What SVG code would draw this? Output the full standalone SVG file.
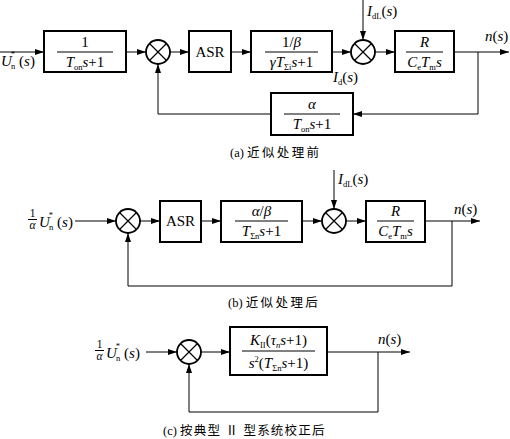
<svg xmlns="http://www.w3.org/2000/svg" width="510" height="439" viewBox="0 0 510 439" font-family="'Liberation Serif','Times New Roman',serif">
<defs>
<marker id="ar" markerUnits="userSpaceOnUse" markerWidth="9" markerHeight="6" refX="9" refY="3" orient="auto"><path d="M0,0 L9,3 L0,6 z" fill="#000"/></marker>
<style>
.bx{fill:#fff;stroke:#000;stroke-width:2}
.ln{fill:none;stroke:#000;stroke-width:1}
.fr{stroke:#000;stroke-width:1}
.sm{fill:#fff;stroke:#000;stroke-width:1.8}
.x{stroke:#000;stroke-width:1.2}
text{font-family:'Liberation Serif','Times New Roman',serif;font-size:15px;fill:#000}
.m{text-anchor:middle}
.i{font-style:italic}
.sb{font-size:8.5px}
.f{font-size:11.5px}
text.cap{font-family:'Liberation Serif','Noto Sans CJK SC',serif;font-size:12.5px}
.cj{letter-spacing:2.4px}
.cj2{letter-spacing:1.2px}
</style>
</defs>
<rect width="510" height="439" fill="#fff"/>

<g id="connectors">
<path class="ln" d="M0,52 H44" marker-end="url(#ar)"/>
<path class="ln" d="M126,52 H146" marker-end="url(#ar)"/>
<path class="ln" d="M170,52 H189" marker-end="url(#ar)"/>
<path class="ln" d="M231,52 H251" marker-end="url(#ar)"/>
<path class="ln" d="M332,52 H351" marker-end="url(#ar)"/>
<path class="ln" d="M363,0 V40" marker-end="url(#ar)"/>
<path class="ln" d="M375,52 H395" marker-end="url(#ar)"/>
<path class="ln" d="M454,52 H509" marker-end="url(#ar)"/>
<path class="ln" d="M478,52 V114 H353" marker-end="url(#ar)"/>
<path class="ln" d="M271,114 H158 V64" marker-end="url(#ar)"/>
<path class="ln" d="M75,221 H116" marker-end="url(#ar)"/>
<path class="ln" d="M140,221 H160" marker-end="url(#ar)"/>
<path class="ln" d="M201,221 H221" marker-end="url(#ar)"/>
<path class="ln" d="M302,221 H322" marker-end="url(#ar)"/>
<path class="ln" d="M334,170 V209" marker-end="url(#ar)"/>
<path class="ln" d="M346,221 H366" marker-end="url(#ar)"/>
<path class="ln" d="M425,221 H480" marker-end="url(#ar)"/>
<path class="ln" d="M452,221 V286 H128 V233" marker-end="url(#ar)"/>
<path class="ln" d="M146,352 H177" marker-end="url(#ar)"/>
<path class="ln" d="M201,352 H230" marker-end="url(#ar)"/>
<path class="ln" d="M327,352 H410" marker-end="url(#ar)"/>
<path class="ln" d="M378,352 V412 H189 V364" marker-end="url(#ar)"/>
</g>

<g id="a-in"><text x="1" y="66"><tspan class="i">U</tspan><tspan class="sb" dy="-9" dx="-1">*</tspan><tspan class="sb" dy="12" dx="-4">n</tspan><tspan dy="-3"> (</tspan><tspan class="i">s</tspan>)</text></g>
<g id="a-b1"><rect class="bx" x="44" y="31" width="82" height="41"/><text class="m" x="85" y="47">1</text><line class="fr" x1="57" y1="52" x2="113" y2="52"/><text class="m" x="85" y="67"><tspan class="i">T</tspan><tspan class="sb" dy="3">on</tspan><tspan class="i" dy="-3">s</tspan>+1</text></g>
<g id="a-s1"><circle class="sm" cx="158" cy="52" r="12"/><path class="x" d="M149.5,43.5 L166.5,60.5 M166.5,43.5 L149.5,60.5"/></g>
<g id="a-asr"><rect class="bx" x="189" y="31" width="42" height="41"/><text class="m" x="210" y="57">ASR</text></g>
<g id="a-b3"><rect class="bx" x="251" y="31" width="81" height="41"/><text class="m" x="291.5" y="47">1/<tspan class="i">β</tspan></text><line class="fr" x1="265" y1="52" x2="318" y2="52"/><text class="m" x="291.5" y="67"><tspan class="i">γT</tspan><tspan class="sb" dy="3">Σi</tspan><tspan class="i" dy="-3">s</tspan>+1</text></g>
<g id="a-s2"><circle class="sm" cx="363" cy="52" r="12"/><path class="x" d="M354.5,43.5 L371.5,60.5 M371.5,43.5 L354.5,60.5"/></g>
<g id="a-idl"><text x="367" y="16"><tspan class="i">I</tspan><tspan class="sb" dy="3">dL</tspan><tspan dy="-3">(</tspan><tspan class="i">s</tspan>)</text></g>
<g id="a-id"><text x="333" y="82"><tspan class="i">I</tspan><tspan class="sb" dy="3">d</tspan><tspan dy="-3">(</tspan><tspan class="i">s</tspan>)</text></g>
<g id="a-r"><rect class="bx" x="395" y="31" width="59" height="41"/><text class="m i" x="424.5" y="47">R</text><line class="fr" x1="406" y1="52" x2="443" y2="52"/><text class="m" x="424.5" y="67"><tspan class="i">C</tspan><tspan class="sb" dy="3">e</tspan><tspan class="i" dy="-3">T</tspan><tspan class="sb" dy="3">m</tspan><tspan class="i" dy="-3">s</tspan></text></g>
<g id="a-out"><text x="485" y="41"><tspan class="i">n</tspan>(<tspan class="i">s</tspan>)</text></g>
<g id="a-fb"><rect class="bx" x="271" y="93" width="82" height="42"/><text class="m i" x="312" y="109">α</text><line class="fr" x1="284" y1="114" x2="340" y2="114"/><text class="m" x="312" y="129"><tspan class="i">T</tspan><tspan class="sb" dy="3">on</tspan><tspan class="i" dy="-3">s</tspan>+1</text></g>
<text class="cap" x="230" y="157">(a) <tspan class="cj">近似处理前</tspan></text>

<g id="b-in"><text class="m f" x="32.5" y="217">1</text><line class="fr" x1="28" y1="219.5" x2="37" y2="219.5"/><text class="m i f" x="32.5" y="229">α</text><text x="39" y="227"><tspan class="i">U</tspan><tspan class="sb" dy="-9" dx="-1">*</tspan><tspan class="sb" dy="12" dx="-4">n</tspan><tspan dy="-3"> (</tspan><tspan class="i">s</tspan>)</text></g>
<g id="b-s1"><circle class="sm" cx="128" cy="221" r="12"/><path class="x" d="M119.5,212.5 L136.5,229.5 M136.5,212.5 L119.5,229.5"/></g>
<g id="b-asr"><rect class="bx" x="160" y="201" width="41" height="41"/><text class="m" x="180.5" y="226">ASR</text></g>
<g id="b-b2"><rect class="bx" x="221" y="201" width="81" height="41"/><text class="m" x="261.5" y="216"><tspan class="i">α</tspan>/<tspan class="i">β</tspan></text><line class="fr" x1="235" y1="221" x2="288" y2="221"/><text class="m" x="261.5" y="236"><tspan class="i">T</tspan><tspan class="sb" dy="3">Σn</tspan><tspan class="i" dy="-3">s</tspan>+1</text></g>
<g id="b-s2"><circle class="sm" cx="334" cy="221" r="12"/><path class="x" d="M325.5,212.5 L342.5,229.5 M342.5,212.5 L325.5,229.5"/></g>
<g id="b-idl"><text x="338" y="184"><tspan class="i">I</tspan><tspan class="sb" dy="3">dL</tspan><tspan dy="-3">(</tspan><tspan class="i">s</tspan>)</text></g>
<g id="b-r"><rect class="bx" x="366" y="201" width="59" height="41"/><text class="m i" x="395.5" y="216">R</text><line class="fr" x1="377" y1="221" x2="414" y2="221"/><text class="m" x="395.5" y="236"><tspan class="i">C</tspan><tspan class="sb" dy="3">e</tspan><tspan class="i" dy="-3">T</tspan><tspan class="sb" dy="3">m</tspan><tspan class="i" dy="-3">s</tspan></text></g>
<g id="b-out"><text x="454" y="214"><tspan class="i">n</tspan>(<tspan class="i">s</tspan>)</text></g>
<text class="cap" x="228" y="307">(b) <tspan class="cj">近似处理后</tspan></text>

<g id="c-in"><text class="m f" x="99.5" y="348">1</text><line class="fr" x1="95" y1="350.5" x2="104" y2="350.5"/><text class="m i f" x="99.5" y="360">α</text><text x="106" y="358"><tspan class="i">U</tspan><tspan class="sb" dy="-9" dx="-1">*</tspan><tspan class="sb" dy="12" dx="-4">n</tspan><tspan dy="-3"> (</tspan><tspan class="i">s</tspan>)</text></g>
<g id="c-s"><circle class="sm" cx="189" cy="352" r="12"/><path class="x" d="M180.5,343.5 L197.5,360.5 M197.5,343.5 L180.5,360.5"/></g>
<g id="c-b"><rect class="bx" x="230" y="327" width="97" height="48"/><text class="m" x="278.5" y="345"><tspan class="i">K</tspan><tspan class="sb" dy="3">II</tspan><tspan dy="-3">(</tspan><tspan class="i">τ</tspan><tspan class="sb i" dy="3">n</tspan><tspan class="i" dy="-3">s</tspan>+1)</text><line class="fr" x1="242" y1="351" x2="315" y2="351"/><text class="m" x="278.5" y="368"><tspan class="i">s</tspan><tspan class="sb" dy="-6">2</tspan><tspan dy="6">(</tspan><tspan class="i">T</tspan><tspan class="sb" dy="3">Σn</tspan><tspan class="i" dy="-3">s</tspan>+1)</text></g>
<g id="c-out"><text x="378" y="344"><tspan class="i">n</tspan>(<tspan class="i">s</tspan>)</text></g>
<text class="cap" x="163" y="435">(c) <tspan class="cj2">按典型 Ⅱ 型系统校正后</tspan></text>
</svg>
